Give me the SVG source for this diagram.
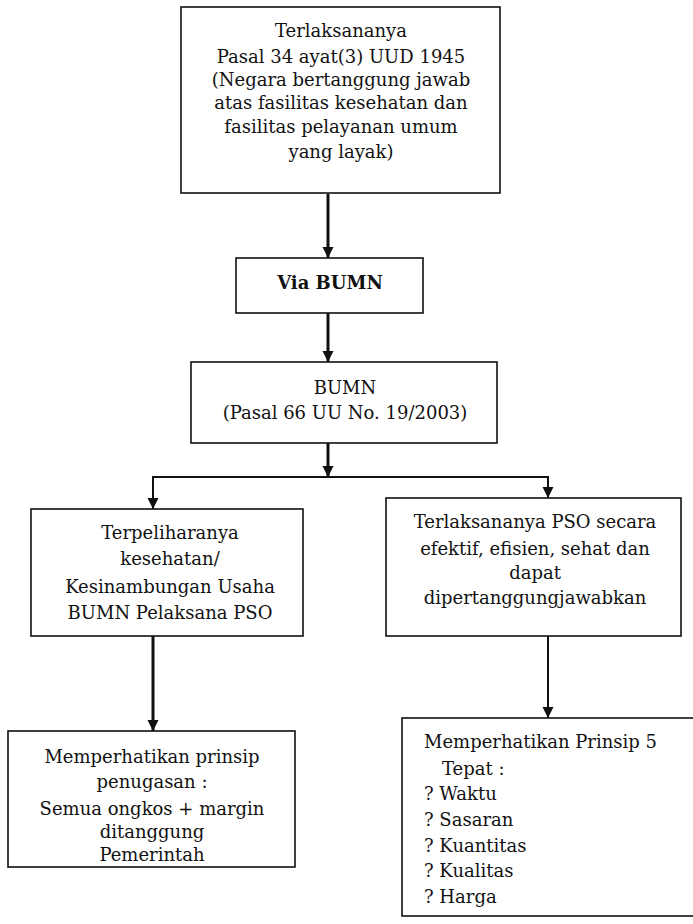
<svg xmlns="http://www.w3.org/2000/svg" width="693" height="924" viewBox="0 0 693 924">
<style>
.box{fill:#fff;stroke:#111;stroke-width:1.6}
.t{font-family:"DejaVu Serif","Liberation Serif",serif;font-size:18px;fill:#111;text-anchor:middle}
.l{font-family:"DejaVu Serif","Liberation Serif",serif;font-size:18px;fill:#111}
.b{font-weight:bold}
.c{fill:none;stroke:#111}
.thick{stroke-width:3}
.thin{stroke-width:2}
</style>
<defs>
<marker id="ah" markerUnits="userSpaceOnUse" markerWidth="12" markerHeight="12" refX="11" refY="6" orient="auto">
<path d="M0,0.5 L11,6 L0,11.5 z" fill="#111"/>
</marker>
</defs>
<rect width="693" height="924" fill="#fff"/>
<g id="connectors">
<line class="c thick" x1="328" y1="194" x2="328" y2="258" marker-end="url(#ah)"/>
<line class="c thick" x1="328" y1="313" x2="328" y2="362" marker-end="url(#ah)"/>
<line class="c thick" x1="328" y1="443" x2="328" y2="477" marker-end="url(#ah)"/>
<polyline class="c thin" points="153,500 153,477 548,477 548,490"/>
<line class="c thin" x1="153" y1="478" x2="153" y2="509" marker-end="url(#ah)"/>
<line class="c thin" x1="548" y1="478" x2="548" y2="498" marker-end="url(#ah)"/>
<line class="c thick" x1="153" y1="636" x2="153" y2="731" marker-end="url(#ah)"/>
<line class="c thin" x1="548" y1="636" x2="548" y2="718" marker-end="url(#ah)"/>
</g>
<g id="n-top">
<rect class="box" x="181" y="7" width="319" height="186"/>
<text class="t" x="341" y="37">Terlaksananya</text>
<text class="t" x="341" y="63">Pasal 34 ayat(3) UUD 1945</text>
<text class="t" x="341" y="86">(Negara bertanggung jawab</text>
<text class="t" x="341" y="109">atas fasilitas kesehatan dan</text>
<text class="t" x="341" y="133">fasilitas pelayanan umum</text>
<text class="t" x="341" y="158">yang layak)</text>
</g>
<g id="n-via">
<rect class="box" x="236" y="258" width="187" height="55"/>
<text class="t b" x="330" y="289">Via BUMN</text>
</g>
<g id="n-bumn">
<rect class="box" x="191" y="362" width="306" height="81"/>
<text class="t" x="345" y="394">BUMN</text>
<text class="t" x="345" y="419">(Pasal 66 UU No. 19/2003)</text>
</g>
<g id="n-left">
<rect class="box" x="31" y="509" width="272" height="127"/>
<text class="t" x="170" y="539">Terpeliharanya</text>
<text class="t" x="170" y="565">kesehatan/</text>
<text class="t" x="170" y="593">Kesinambungan Usaha</text>
<text class="t" x="170" y="619">BUMN Pelaksana PSO</text>
</g>
<g id="n-right">
<rect class="box" x="386" y="498" width="295" height="138"/>
<text class="t" x="535" y="528">Terlaksananya PSO secara</text>
<text class="t" x="535" y="555">efektif, efisien, sehat dan</text>
<text class="t" x="535" y="579">dapat</text>
<text class="t" x="535" y="604">dipertanggungjawabkan</text>
</g>
<g id="n-bl">
<rect class="box" x="8" y="731" width="287" height="136"/>
<text class="t" x="152" y="763">Memperhatikan prinsip</text>
<text class="t" x="152" y="788">penugasan :</text>
<text class="t" x="152" y="815">Semua ongkos + margin</text>
<text class="t" x="152" y="838">ditanggung</text>
<text class="t" x="152" y="861">Pemerintah</text>
</g>
<g id="n-br">
<rect class="box" x="402" y="718" width="300" height="198"/>
<text class="l" x="424" y="748">Memperhatikan Prinsip 5</text>
<text class="l" x="442" y="775">Tepat :</text>
<text class="l" x="424" y="800">? Waktu</text>
<text class="l" x="424" y="826">? Sasaran</text>
<text class="l" x="424" y="852">? Kuantitas</text>
<text class="l" x="424" y="877">? Kualitas</text>
<text class="l" x="424" y="903">? Harga</text>
</g>
</svg>
